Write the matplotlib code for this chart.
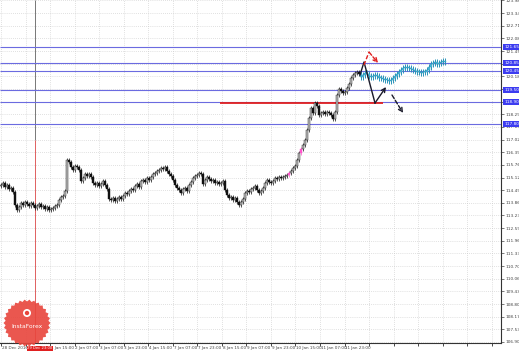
import numpy as np
import matplotlib
matplotlib.use("Agg")
import matplotlib.pyplot as plt
from matplotlib.patches import Polygon, Circle

# ---------------- data ----------------
CLOSE = [114.75, 114.85, 114.65, 114.75, 114.55, 114.60, 114.40, 113.75, 113.50, 113.65,
         113.85, 113.75, 113.90, 113.80, 113.70, 113.85, 113.75, 113.60, 113.70, 113.80,
         113.65, 113.70, 113.55, 113.65, 113.50, 113.55, 113.60, 113.70, 113.75, 114.00,
         114.15, 114.20, 114.45, 116.00, 115.90, 115.65, 115.50, 115.70, 115.65, 115.50,
         114.95, 115.10, 115.30, 115.20, 115.30, 115.15, 114.85, 114.75, 114.85, 114.70,
         114.80, 114.95, 114.75, 114.55, 114.05, 114.00, 114.10, 113.95, 114.05, 114.15,
         114.05, 114.20, 114.35, 114.30, 114.45, 114.55, 114.50, 114.70, 114.80, 114.65,
         114.95, 115.00, 114.90, 115.10, 115.00, 115.15, 115.30, 115.35, 115.45, 115.50,
         115.60, 115.55, 115.65, 115.45, 115.30, 115.20, 115.00, 114.75, 114.60, 114.50,
         114.35, 114.55, 114.60, 114.45, 114.75, 114.90, 115.10, 115.20, 115.25, 115.35,
         115.30, 114.80, 115.00, 115.15, 115.05, 114.95, 115.00, 114.85, 114.90, 114.80,
         114.85, 114.95, 114.50, 114.25, 114.10, 114.15, 114.00, 114.10, 113.90, 113.75,
         113.90, 114.05, 114.35, 114.45, 114.40, 114.55, 114.60, 114.70, 114.50, 114.35,
         114.45, 114.60, 114.85, 115.00, 114.90, 114.85, 114.95, 115.10, 115.05, 115.15,
         115.10, 115.15, 115.20, 115.25, 115.35, 115.45, 115.60, 115.70, 116.00, 116.35,
         116.55, 116.75, 117.00, 117.50, 118.10, 118.60, 118.35, 118.85, 118.70, 118.25,
         118.35, 118.40, 118.30, 118.40, 118.35, 118.25, 118.05, 118.40, 119.25, 119.55,
         119.45, 119.35, 119.40, 119.60, 119.80, 120.10, 120.25, 120.35, 120.40, 120.30]
OPEN0 = 114.70
PINK_BARS = [144, 150]

FORECAST = [120.15, 120.25, 120.35, 120.30, 120.20, 120.15, 120.20, 120.25, 120.20, 120.10,
            120.10, 120.05, 120.00, 120.00, 119.95, 120.00, 120.10, 120.20, 120.30, 120.40,
            120.50, 120.60, 120.65, 120.60, 120.60, 120.55, 120.50, 120.45, 120.40, 120.40,
            120.35, 120.40, 120.40, 120.50, 120.65, 120.80, 120.85, 120.90, 120.80, 120.85,
            120.90, 120.95, 120.90]

BLUE_LEVELS = [121.65, 120.85, 120.45, 119.50, 118.90, 117.80]
RED_LEVEL = 118.85
RED_SPAN = [109.5, 191.0]

ARROW_BLACK_X = [179.5, 181.5, 187.0, 192.5]
ARROW_BLACK_Y = [120.25, 120.90, 118.85, 119.65]
ARROW_DASH_X = [195.5, 201.0]
ARROW_DASH_Y = [119.25, 118.35]
ARROW_RED_X = [181.5, 184.0, 188.5]
ARROW_RED_Y = [120.75, 121.40, 120.85]

SEPARATOR_X = 17.0

X_LABELS = ["28 Dec 2016", "1 Jan 15:00", "2 Jan 07:00", "3 Jan 07:00", "3 Jan 23:00",
            "4 Jan 15:00", "7 Jan 07:00", "7 Jan 23:00", "8 Jan 15:00", "9 Jan 07:00",
            "9 Jan 23:00", "10 Jan 15:00", "11 Jan 07:00", "11 Jan 23:00"]
X_LABEL_SLOTS = [0, 2, 3, 4, 5, 6, 7, 8, 9, 10, 11, 12, 13, 14]
RED_X_LABEL = "29 Dec 23:00"
X_STEP = 12.27

Y_TICK_START = 106.90
Y_TICK_STEP = 0.6325
Y_TICK_COUNT = 28

WICK = 0.09
F_WICK = 0.13

# ---------------- figure ----------------
W, H = 519, 353
fig = plt.figure(figsize=(W / 100, H / 100), dpi=100)
fig.patch.set_facecolor("white")
ax = fig.add_axes([0, 10 / H, 501 / W, 343 / H])
ax.set_xlim(-0.5, 250)
ax.set_ylim(106.85, 124.0)

# grid
xgrid = np.arange(0, 250, X_STEP)
ygrid = Y_TICK_START + Y_TICK_STEP * np.arange(Y_TICK_COUNT)
ax.set_xticks(xgrid)
ax.set_xticklabels([])
ax.set_yticks(ygrid)
ax.set_yticklabels([f"{v:.2f}" for v in ygrid])
ax.yaxis.tick_right()
ax.tick_params(axis="y", labelsize=3.1, length=2, width=0.5, pad=1.0, colors="#444444")
ax.tick_params(axis="x", length=2, width=0.5)
ax.grid(True, color="#c4c4c4", linestyle=(0, (1, 2)), linewidth=0.5)
ax.set_axisbelow(True)
for s in ["top", "left"]:
    ax.spines[s].set_visible(False)
for s in ["right", "bottom"]:
    ax.spines[s].set_linewidth(0.8)
    ax.spines[s].set_color("#333333")

# separator line
ax.vlines(SEPARATOR_X, 117.0, 124.0, color="#777777", lw=0.7, zorder=2)
ax.vlines(SEPARATOR_X, 106.85, 117.0, color="#e06060", lw=0.7, zorder=2)

# horizontal levels
ax.hlines(BLUE_LEVELS, -0.5, 250, color="#6b6be0", lw=0.8, zorder=3)
ax.hlines(RED_LEVEL, RED_SPAN[0], RED_SPAN[1], color="#e02020", lw=1.3, zorder=4)

# candles
for i, c in enumerate(CLOSE):
    o = CLOSE[i - 1] if i > 0 else OPEN0
    lo, hi = min(o, c), max(o, c)
    col = "#ff55cc" if i in PINK_BARS else "#111111"
    ax.vlines(i, lo - WICK, hi + WICK, color=col, lw=0.5, zorder=5)
    face = "#bdbdbd" if c >= o else "#111111"
    if i in PINK_BARS:
        face = "#ff55cc"
    ax.bar(i, max(hi - lo, 0.03), bottom=lo, width=0.7, color=face,
           edgecolor=col, lw=0.3, zorder=6)

# forecast candles
start = len(CLOSE)
prev = CLOSE[-1]
for j, c in enumerate(FORECAST):
    x = start + j
    o = prev
    lo, hi = min(o, c), max(o, c)
    ax.vlines(x, lo - F_WICK, hi + F_WICK, color="#2a93b8", lw=0.7, zorder=5)
    ax.bar(x, max(hi - lo, 0.05), bottom=lo, width=0.9, color="#4fbddc",
           edgecolor="#2a93b8", lw=0.3, zorder=6)
    prev = c

# arrows
def arrow(xs, ys, color, ls):
    ax.plot(xs[:-1], ys[:-1], color=color, lw=1.0, ls=ls, zorder=8)
    ax.annotate("", xy=(xs[-1], ys[-1]), xytext=(xs[-2], ys[-2]),
                arrowprops=dict(arrowstyle="->", color=color, lw=1.0, ls=ls,
                                mutation_scale=7, shrinkA=0, shrinkB=0), zorder=8)

arrow(ARROW_BLACK_X, ARROW_BLACK_Y, "#1a1a2a", "-")
arrow(ARROW_DASH_X, ARROW_DASH_Y, "#1a1a2a", (0, (3, 1.5)))
arrow(ARROW_RED_X, ARROW_RED_Y, "#e02020", (0, (3, 1.5)))

# tags for blue levels on the price axis
for lv in BLUE_LEVELS:
    ax.text(1.006, lv, f"{lv:.2f}", transform=ax.get_yaxis_transform(),
            fontsize=3.1, color="white", va="center", ha="left", zorder=10,
            bbox=dict(boxstyle="square,pad=0.2", fc="#3c3cf0", ec="none"),
            clip_on=False)

# x labels
xt = ax.get_xaxis_transform()
for slot, lab in zip(X_LABEL_SLOTS, X_LABELS):
    ax.text(xgrid[slot] + 0.4, -0.01, lab, transform=xt, fontsize=3.0,
            color="#444444", ha="left", va="top", clip_on=False)
ax.text(xgrid[1] + 0.8, -0.01, RED_X_LABEL, transform=xt, fontsize=2.7,
        color="white", ha="left", va="top", clip_on=False, zorder=10,
        bbox=dict(boxstyle="square,pad=0.12", fc="#e02020", ec="none"))

# watermark logo
cx, cy, r_out, r_in, teeth = 27, 323, 23.5, 21.5, 30
ang = np.linspace(0, 2 * np.pi, 2 * teeth, endpoint=False)
rad = np.where(np.arange(2 * teeth) % 2 == 0, r_out, r_in)
pts = np.column_stack([(cx + rad * np.cos(ang)) / 100, (H - (cy + rad * np.sin(ang))) / 100])
fig.add_artist(Polygon(pts, closed=True, fc="#e8453c", ec="none", alpha=0.9,
                       transform=fig.dpi_scale_trans, zorder=20))
fig.add_artist(Circle((cx / 100, (H - 313) / 100), 0.04, fc="white", ec="none",
                      transform=fig.dpi_scale_trans, zorder=21))
fig.add_artist(Circle((cx / 100, (H - 313) / 100), 0.022, fc="#e8453c", ec="none",
                      transform=fig.dpi_scale_trans, zorder=22))
fig.text(cx / W, 1 - 327 / H, "InstaForex", fontsize=4.3, color="white",
         ha="center", va="center", zorder=23)

fig.savefig("out.png", dpi=100)
